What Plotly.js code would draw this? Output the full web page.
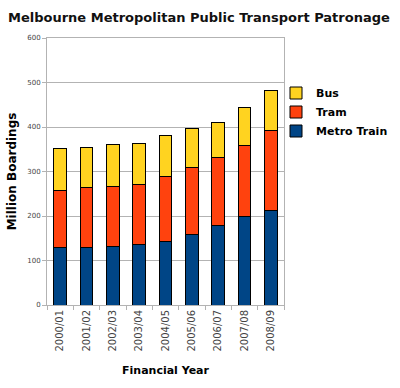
<!DOCTYPE html>
<html><head><meta charset="utf-8">
<script src="https://cdn.plot.ly/plotly-3.0.1.min.js"></script>
<style>html,body{margin:0;padding:0;background:#fff}#chart{width:400px;height:388px}</style>
</head><body><div id="chart"></div>
<script>
const years = ["2000/01","2001/02","2002/03","2003/04","2004/05","2005/06","2006/07","2007/08","2008/09"];
const metroTrain = [130,130,132,135,143,158,178,200,213];
const tram = [128,133,135,136,145,150,154,158,179];
const bus = [94,91,93,92,94,89,79,85,90];
const yTicks = [0,100,200,300,400,500,600];

const line = {color:'#000', width:1};
const traces = [
  {type:'bar', name:'Metro Train', x:years, y:metroTrain, marker:{color:'#004586', line:line}},
  {type:'bar', name:'Tram', x:years, y:tram, marker:{color:'#ff420e', line:line}},
  {type:'bar', name:'Bus', x:years, y:bus, marker:{color:'#ffd320', line:line}}
];
const layout = {
  width:400, height:388,
  margin:{l:47, r:116, t:38, b:83, autoexpand:false},
  paper_bgcolor:'#fff', plot_bgcolor:'#fff',
  barmode:'stack', bargap:0.52,
  font:{family:'DejaVu Sans, Verdana, sans-serif', color:'#000'},
  title:{text:'<b>Melbourne Metropolitan Public Transport Patronage</b>', font:{size:13, color:'#111'}, x:0.02, xanchor:'left', y:0.955, yanchor:'middle'},
  xaxis:{
    title:{text:'<b>Financial Year</b>', font:{size:11}, standoff:15},
    tickangle:-90, tickfont:{size:10, color:'#444'},
    showline:true, linecolor:'#b3b3b3', mirror:true,
    ticks:'outside', tickson:'boundaries', ticklen:4, tickcolor:'#b3b3b3',
    showgrid:false
  },
  yaxis:{
    title:{text:'<b>Million Boardings</b>', font:{size:12}, standoff:8},
    range:[0,600], tickvals:yTicks, ticktext:yTicks.map(String),
    tickfont:{size:7, color:'#444'},
    showline:true, linecolor:'#b3b3b3', mirror:true,
    ticks:'outside', ticklen:4, tickcolor:'#b3b3b3',
    gridcolor:'#b3b3b3', gridwidth:1, zeroline:false
  },
  legend:{xref:'container', yref:'container', x:0.69, xanchor:'left', y:1-112/388, yanchor:'middle', traceorder:'reversed',
    font:{size:11, color:'#000', weight:'bold'}, itemwidth:30, tracegroupgap:0, bgcolor:'rgba(0,0,0,0)'},
  showlegend:true
};
Plotly.newPlot('chart', traces, layout, {displayModeBar:false, staticPlot:true});
</script></body></html>
